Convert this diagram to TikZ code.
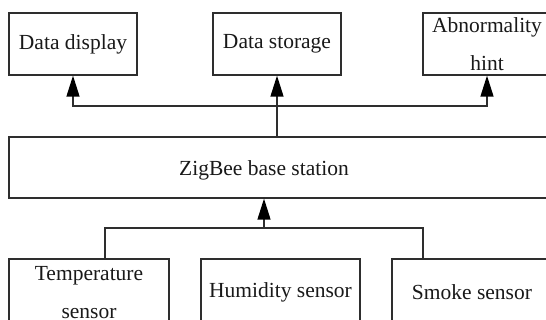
\documentclass[tikz,border=0pt]{standalone}
\usepackage{fontspec}
\setmainfont{Liberation Serif}
\usetikzlibrary{arrows.meta}
\begin{document}
\begin{tikzpicture}[x=1pt,y=-1pt,
  box/.style={draw=black!82, line width=1.3pt, rectangle, inner sep=0pt,
    minimum height=62pt, align=center, text=black!90,
    font=\fontsize{21.5}{38}\selectfont},
  lbl/.style={text=black!90, font=\fontsize{21.5}{38}\selectfont, inner sep=0pt},
  conn/.style={draw=black!82, line width=1.3pt},
  arr/.style={conn, -{Triangle[length=21pt,width=13pt,fill=black,color=black]}}]
\useasboundingbox (0,0) rectangle (546,320);
\clip (0,0) rectangle (546,320);
\fill[white] (0,0) rectangle (546,320);
% top row
\node[box, minimum width=128pt] (disp) at (73,44) {Data display};
\node[box, minimum width=128pt] (stor) at (277,44) {Data storage};
\node[box, minimum width=128pt] (abn) at (487,44) {Abnormality\\hint};
% base station
\node[box, minimum width=542pt, minimum height=61pt] (zig) at (280,167.5) {};
\node[lbl] (zigtxt) at (264,170.5) {ZigBee base station};
% sensors
\node[box, minimum width=160pt, minimum height=68pt] (temp) at (89,293) {Temperature\\sensor};
\node[box, minimum width=159pt, minimum height=66pt] (hum) at (280.5,292) {Humidity sensor};
\node[box, minimum width=160pt, minimum height=66pt] (smoke) at (472,292) {Smoke sensor};
% upper connectors
\coordinate (bus) at (277,106);
\draw[arr] (zig.north -| stor.south) -- (stor.south);
\draw[arr] (bus) -| (disp.south);
\draw[arr] (bus) -| (abn.south);
% lower connectors
\coordinate (sbus) at (264,228);
\coordinate (tjx) at (105,0);
\coordinate (sjx) at (423,0);
\draw[arr] (sbus) -- (zig.south -| sbus);
\draw[conn] (temp.north -| tjx) |- (sbus) -| (smoke.north -| sjx);
\end{tikzpicture}
\end{document}
